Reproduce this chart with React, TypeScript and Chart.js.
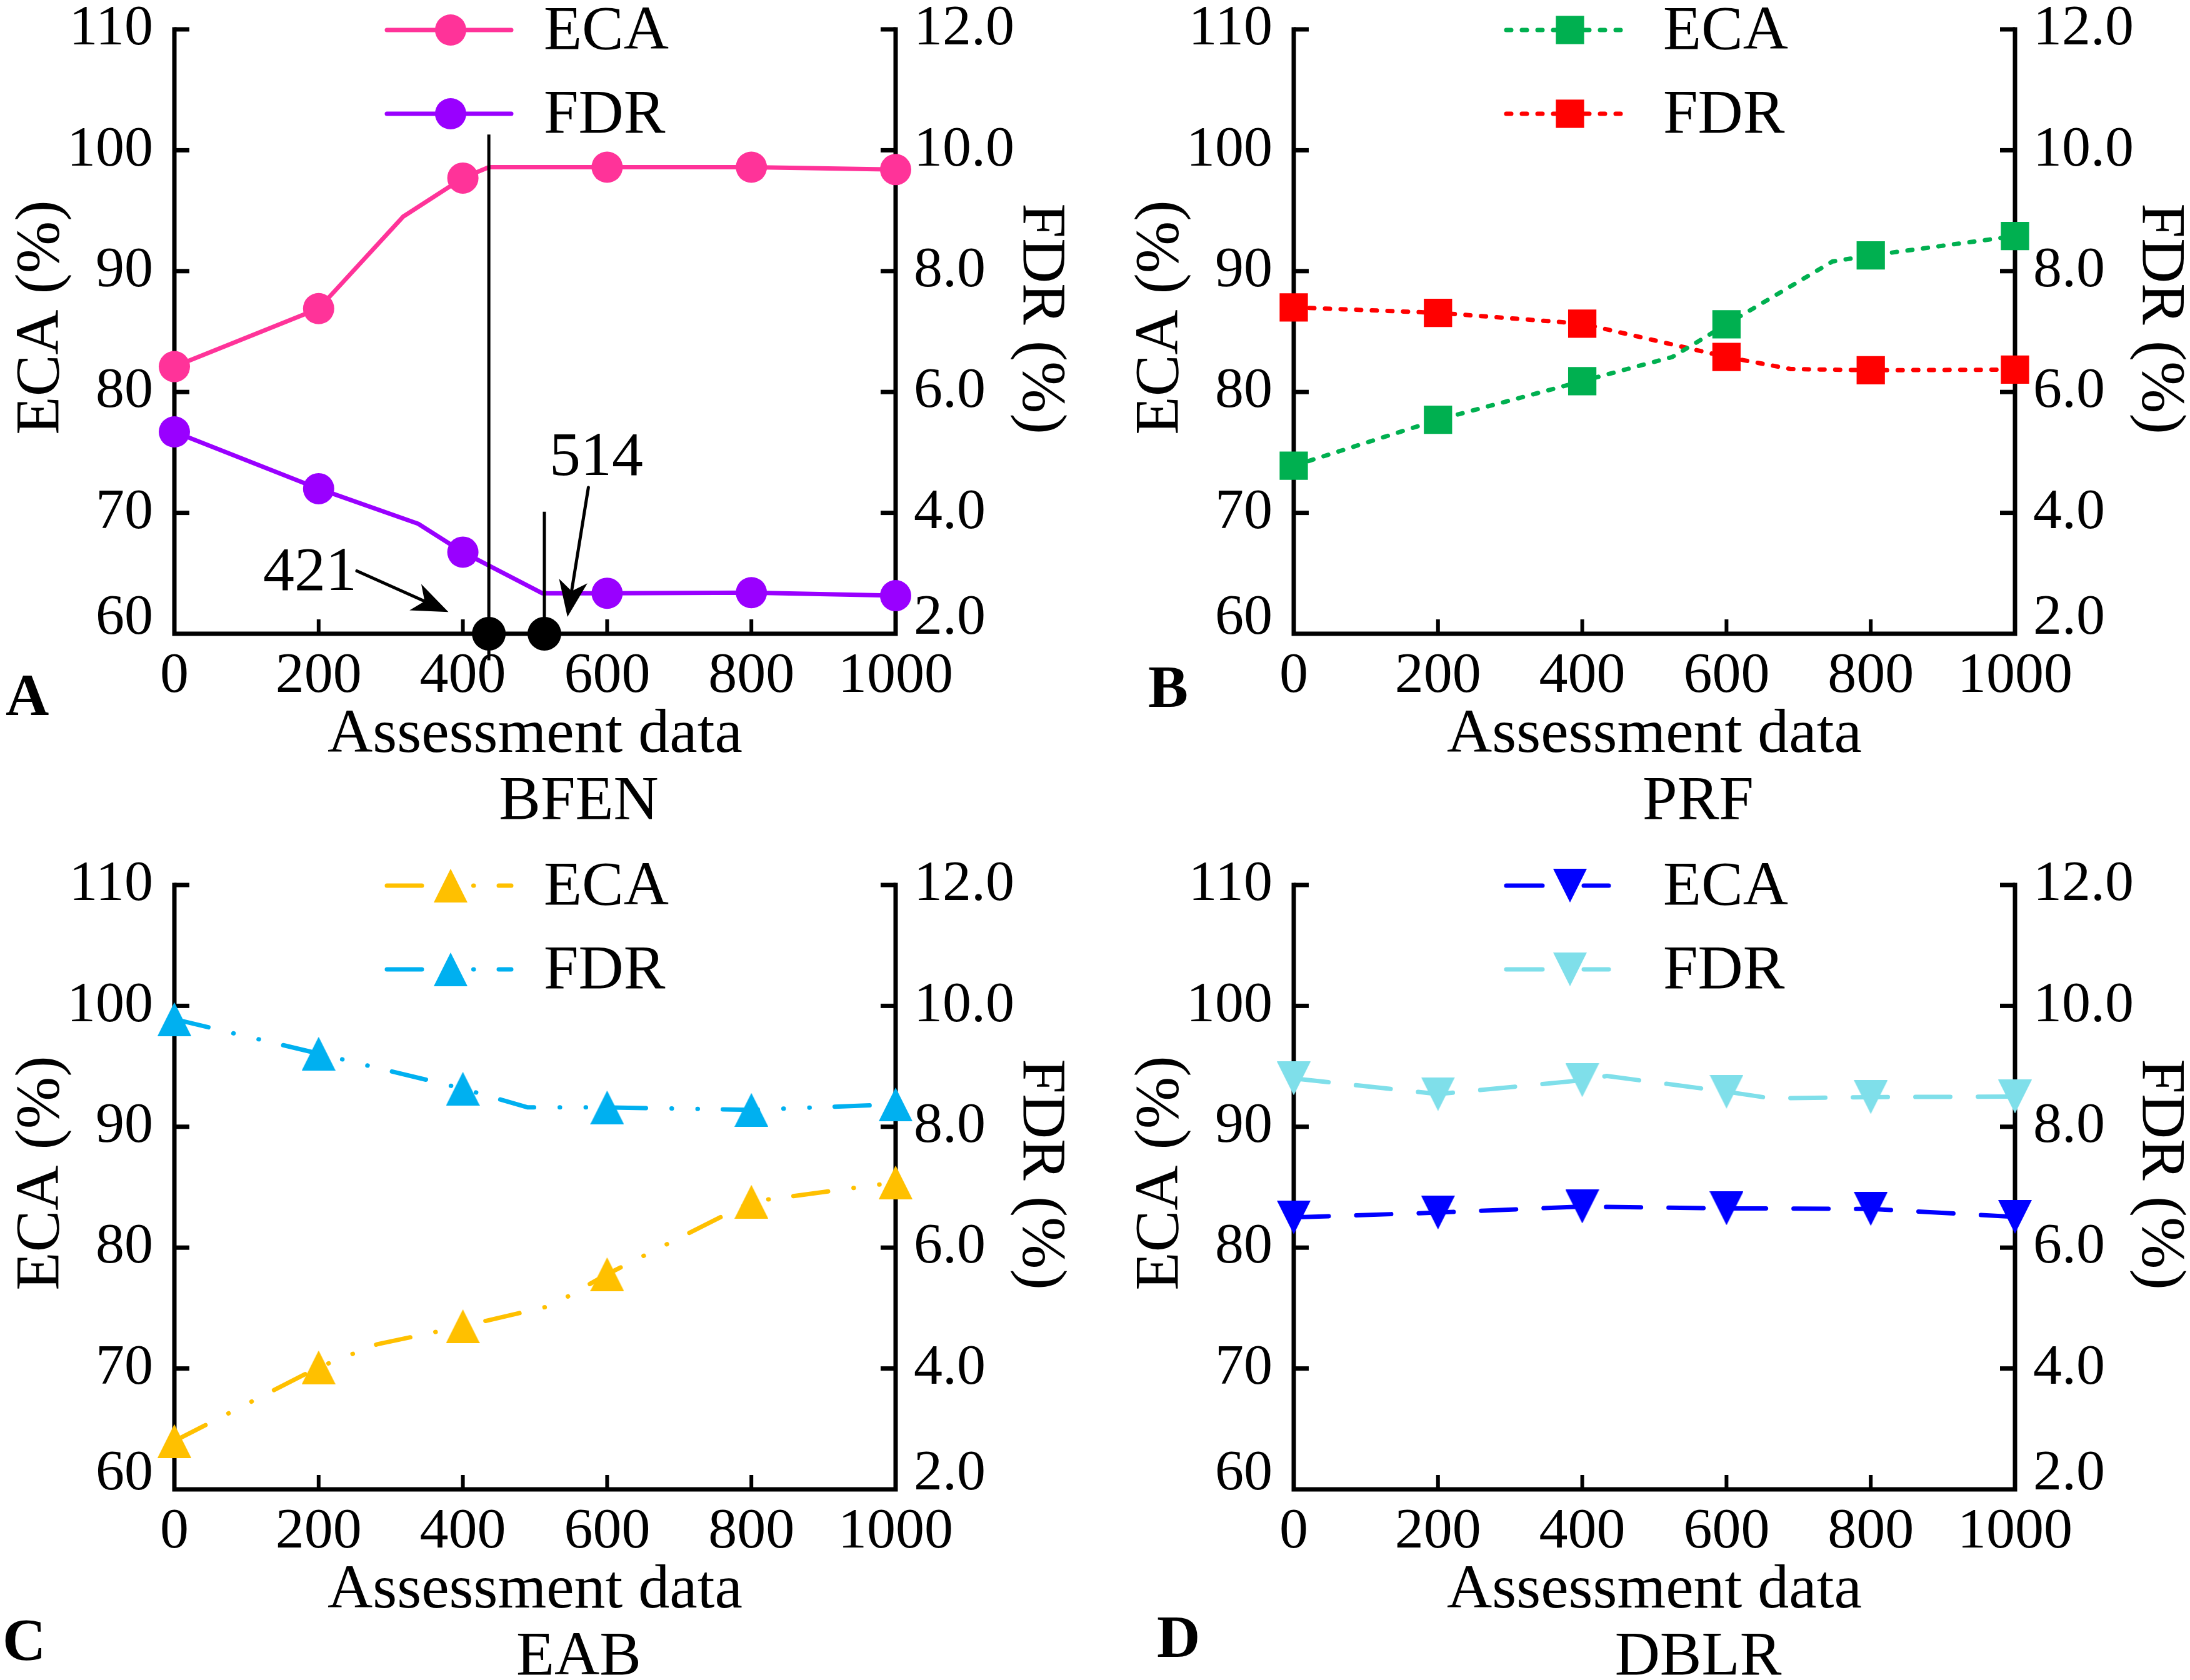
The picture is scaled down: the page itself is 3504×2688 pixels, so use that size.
import React, { useEffect, useRef } from "react";
import { Chart, registerables } from "chart.js";
Chart.register(...registerables);

const FONT = '"Liberation Serif", "Times New Roman", Times, serif';

// ---------------- data ----------------
const xTickValues = [0, 200, 400, 600, 800, 1000];
const ecaRange = [60, 110, 10]; // min, max, step
const fdrRange = [2, 12, 2];
const seriesLabels = ["ECA", "FDR"];
const xAxisTitle = "Assessment data";
const leftAxisTitle = "ECA (%)";
const rightAxisTitle = "FDR (%)";
const panelLetters = ["A", "B", "C", "D"];
const methodNames = ["BFEN", "PRF", "EAB", "DBLR"];

// A: BFEN
const bfenEcaX = [0, 200, 317, 400, 436, 600, 800, 1000];
const bfenEca = [82.1, 86.9, 94.5, 97.7, 98.6, 98.6, 98.6, 98.4];
const bfenFdrX = [0, 200, 338, 400, 510, 600, 800, 1000];
const bfenFdr = [5.34, 4.4, 3.82, 3.35, 2.67, 2.67, 2.68, 2.63];
// BFEN threshold marks (drawn at their read positions, labelled as in the figure)
const bfenMarkX = [436, 513];
const bfenMarkLabels = ["421", "514"];
const bfenMarkTop = [101.3, 70.1];
const bfenMarkBottom = [57.8, 60];
const bfenDotY = [60, 60];
const bfenArrowFromX = [253, 574];
const bfenArrowFromY = [65.2, 72.1];
const bfenArrowToX = [380, 545];
const bfenArrowToY = [61.8, 61.4];
const bfenLabelX = [188, 585];
const bfenLabelY = [65.0, 74.5];

// B: PRF
const prfEcaX = [0, 200, 400, 525, 600, 747, 800, 1000];
const prfEca = [73.9, 77.7, 80.9, 82.9, 85.6, 90.8, 91.3, 92.9];
const prfFdrX = [0, 200, 400, 600, 689, 800, 1000];
const prfFdr = [7.4, 7.31, 7.13, 6.58, 6.38, 6.36, 6.37];

// C: EAB
const eabEcaX = [0, 200, 281, 400, 523, 600, 800, 1000];
const eabEca = [64.0, 70.1, 72.0, 73.5, 75.2, 77.8, 83.8, 85.4];
const eabFdrX = [0, 200, 400, 490, 600, 800, 1000];
const eabFdr = [9.78, 9.21, 8.63, 8.32, 8.32, 8.28, 8.37];

// D: DBLR
const dblrEcaX = [0, 200, 400, 600, 800, 1000];
const dblrEca = [82.5, 82.9, 83.4, 83.25, 83.2, 82.55];
const dblrFdrX = [0, 200, 400, 434, 600, 662, 800, 1000];
const dblrFdr = [8.8, 8.54, 8.77, 8.84, 8.58, 8.47, 8.49, 8.5];

// ---------------- layout / style ----------------
const CANVAS_W = 1713;
const AREA_LEFT = 279;
const AREA_RIGHT = 1433;
const AREA_TOP = 47;
const AREA_BOTTOM = 1014;

type MarkerKind = "circle" | "rect" | "triUp" | "triDown";
type PanelSpec = {
  idx: number;
  left: number;
  top: number;
  height: number;
  letterX: number;
  letterY: number;
  ecaX: number[];
  eca: number[];
  fdrX: number[];
  fdr: number[];
  colors: string[];
  dash: number[];
  legendDash: number[];
  legendEnd: number;
  marker: MarkerKind;
  annotate: boolean;
};

const DASHDOT = [56, 41, 0.5, 41, 0.5, 40];

const panels: PanelSpec[] = [
  {
    idx: 0, left: 0, top: 0, height: 1369, letterX: 9, letterY: 1144,
    ecaX: bfenEcaX, eca: bfenEca, fdrX: bfenFdrX, fdr: bfenFdr,
    colors: ["#FF3399", "#9900FF"], dash: [], legendDash: [], legendEnd: 539,
    marker: "circle", annotate: true,
  },
  {
    idx: 1, left: 1791, top: 0, height: 1369, letterX: 46, letterY: 1131,
    ecaX: prfEcaX, eca: prfEca, fdrX: prfFdrX, fdr: prfFdr,
    colors: ["#00B050", "#FF0000"], dash: [8, 17], legendDash: [8, 17], legendEnd: 529,
    marker: "rect", annotate: false,
  },
  {
    idx: 2, left: 0, top: 1369, height: 1319, letterX: 4, letterY: 1287,
    ecaX: eabEcaX, eca: eabEca, fdrX: eabFdrX, fdr: eabFdr,
    colors: ["#FFC000", "#00B0F0"], dash: DASHDOT, legendDash: DASHDOT, legendEnd: 539,
    marker: "triUp", annotate: false,
  },
  {
    idx: 3, left: 1791, top: 1369, height: 1319, letterX: 60, letterY: 1282,
    ecaX: dblrEcaX, eca: dblrEca, fdrX: dblrFdrX, fdr: dblrFdr,
    colors: ["#0000FF", "#7FDFEA"], dash: [56, 44], legendDash: [58, 66], legendEnd: 504,
    marker: "triDown", annotate: false,
  },
];

function makeTriangle(color: string, down: boolean) {
  const w = 54;
  const h = 54;
  const c = document.createElement("canvas");
  c.width = w;
  c.height = h;
  const g = c.getContext("2d")!;
  g.fillStyle = color;
  g.beginPath();
  if (down) {
    g.moveTo(0, 0);
    g.lineTo(w, 0);
    g.lineTo(w / 2, h);
  } else {
    g.moveTo(w / 2, 0);
    g.lineTo(w, h);
    g.lineTo(0, h);
  }
  g.closePath();
  g.fill();
  return c;
}

function pointStyleFor(kind: MarkerKind, color: string): any {
  if (kind === "circle") return "circle";
  if (kind === "rect") return "rect";
  return makeTriangle(color, kind === "triDown");
}

function radiusFor(kind: MarkerKind) {
  if (kind === "circle") return 25;
  if (kind === "rect") return 32;
  return 27;
}

function drawMarker(ctx: CanvasRenderingContext2D, kind: MarkerKind, style: any, x: number, y: number, color: string) {
  ctx.fillStyle = color;
  if (kind === "circle") {
    ctx.beginPath();
    ctx.arc(x, y, 25, 0, Math.PI * 2);
    ctx.fill();
  } else if (kind === "rect") {
    const s = 32 * Math.SQRT1_2;
    ctx.fillRect(x - s, y - s, 2 * s, 2 * s);
  } else {
    ctx.drawImage(style, x - style.width / 2, y - style.height / 2);
  }
}

function drawArrow(ctx: CanvasRenderingContext2D, x0: number, y0: number, x1: number, y1: number) {
  const L = 58;
  const W = 23;
  const dx = x1 - x0;
  const dy = y1 - y0;
  const len = Math.hypot(dx, dy);
  const ux = dx / len;
  const uy = dy / len;
  const nx = -uy;
  const ny = ux;
  const bx = x1 - ux * L;
  const by = y1 - uy * L;
  const notchX = x1 - ux * L * 0.72;
  const notchY = y1 - uy * L * 0.72;
  ctx.strokeStyle = "#000";
  ctx.fillStyle = "#000";
  ctx.lineWidth = 5;
  ctx.lineCap = "round";
  ctx.setLineDash([]);
  ctx.beginPath();
  ctx.moveTo(x0, y0);
  ctx.lineTo(notchX, notchY);
  ctx.stroke();
  ctx.beginPath();
  ctx.moveTo(x1, y1);
  ctx.lineTo(bx + nx * W, by + ny * W);
  ctx.lineTo(notchX, notchY);
  ctx.lineTo(bx - nx * W, by - ny * W);
  ctx.closePath();
  ctx.fill();
}

function Panel({ spec }: { spec: PanelSpec }) {
  const ref = useRef<HTMLCanvasElement | null>(null);

  useEffect(() => {
    const canvas = ref.current;
    if (!canvas) return;
    const H = spec.height;
    const styles = spec.colors.map((c) => pointStyleFor(spec.marker, c));
    const R = radiusFor(spec.marker);

    const seriesDataset = (label: string, xs: number[], ys: number[], axis: string, color: string, style: any) => ({
      type: "line",
      label,
      data: xs.map((x, i) => ({ x, y: ys[i] })),
      yAxisID: axis,
      borderColor: color,
      backgroundColor: color,
      borderWidth: 7,
      borderDash: spec.dash,
      borderCapStyle: "round",
      borderJoinStyle: "round",
      tension: 0,
      fill: false,
      pointStyle: style,
      pointRadius: (c: any) => (c.raw && xTickValues.includes(c.raw.x) ? R : 0),
      pointHoverRadius: 0,
      pointBackgroundColor: color,
      pointBorderColor: color,
      pointBorderWidth: 0,
      clip: false,
    });

    const datasets: any[] = [];
    if (spec.annotate) {
      bfenMarkX.forEach((mx, i) => {
        datasets.push({
          type: "line",
          label: "mark" + i,
          data: [
            { x: mx, y: bfenMarkBottom[i] },
            { x: mx, y: bfenMarkTop[i] },
          ],
          yAxisID: "y",
          borderColor: "#000",
          borderWidth: 5,
          pointRadius: 0,
          pointHoverRadius: 0,
          clip: false,
        });
      });
      datasets.push({
        type: "line",
        label: "dots",
        showLine: false,
        data: bfenMarkX.map((mx, i) => ({ x: mx, y: bfenDotY[i] })),
        yAxisID: "y",
        pointStyle: "circle",
        pointRadius: 27,
        pointHoverRadius: 0,
        pointBackgroundColor: "#000",
        pointBorderWidth: 0,
        clip: false,
      });
    }
    datasets.push(seriesDataset(seriesLabels[0], spec.ecaX, spec.eca, "y", spec.colors[0], styles[0]));
    datasets.push(seriesDataset(seriesLabels[1], spec.fdrX, spec.fdr, "y1", spec.colors[1], styles[1]));

    const decor = {
      id: "decor" + spec.idx,
      beforeDatasetsDraw(chart: any) {
        const { ctx, chartArea } = chart;
        const { left, right, top, bottom } = chartArea;
        const sx = chart.scales.x;
        const sy = chart.scales.y;
        const sy1 = chart.scales.y1;
        ctx.save();
        // bottom tick labels lifted clear of the x labels, as in the figure
        ctx.fillStyle = "#000";
        ctx.font = `92px ${FONT}`;
        ctx.textBaseline = "middle";
        ctx.textAlign = "right";
        ctx.fillText(String(sy.min), left - 34, sy.getPixelForValue(sy.min) - 24);
        ctx.textAlign = "left";
        ctx.fillText(Number(sy1.min).toFixed(1), right + 29, sy1.getPixelForValue(sy1.min) - 24);

        ctx.strokeStyle = "#000";
        ctx.lineWidth = 7;
        ctx.setLineDash([]);
        ctx.lineCap = "square";
        ctx.lineJoin = "miter";
        ctx.beginPath();
        ctx.moveTo(left, top);
        ctx.lineTo(left, bottom);
        ctx.lineTo(right, bottom);
        ctx.lineTo(right, top);
        ctx.stroke();
        ctx.lineCap = "butt";
        sy.ticks.forEach((t: any) => {
          if (t.value <= sy.min) return;
          const py = sy.getPixelForValue(t.value);
          ctx.beginPath();
          ctx.moveTo(left, py);
          ctx.lineTo(left + 24, py);
          ctx.stroke();
        });
        sy1.ticks.forEach((t: any) => {
          if (t.value <= sy1.min) return;
          const py = sy1.getPixelForValue(t.value);
          ctx.beginPath();
          ctx.moveTo(right, py);
          ctx.lineTo(right - 24, py);
          ctx.stroke();
        });
        ctx.lineWidth = 6;
        sx.ticks.forEach((t: any) => {
          if (t.value <= sx.min || t.value >= sx.max) return;
          const px = sx.getPixelForValue(t.value);
          ctx.beginPath();
          ctx.moveTo(px, bottom);
          ctx.lineTo(px, bottom - 23);
          ctx.stroke();
        });
        ctx.restore();
      },
      afterDatasetsDraw(chart: any) {
        const { ctx, chartArea } = chart;
        const { left, right, top } = chartArea;
        const sx = chart.scales.x;
        const sy = chart.scales.y;
        ctx.save();
        ctx.fillStyle = "#000";
        ctx.font = `100px ${FONT}`;
        ctx.textAlign = "center";
        ctx.textBaseline = "alphabetic";
        const cx = (left + right) / 2;
        ctx.fillText(xAxisTitle, cx, 1203);
        ctx.fillText(methodNames[spec.idx], cx + 70, 1310);

        ctx.save();
        ctx.translate(left - 212, 508);
        ctx.rotate(-Math.PI / 2);
        ctx.textBaseline = "middle";
        ctx.fillText(leftAxisTitle, 0, 0);
        ctx.restore();

        ctx.save();
        ctx.translate(right + 231, 510);
        ctx.rotate(Math.PI / 2);
        ctx.textBaseline = "middle";
        ctx.fillText(rightAxisTitle, 0, 0);
        ctx.restore();

        ctx.font = `bold 96px ${FONT}`;
        ctx.textAlign = "left";
        ctx.fillText(panelLetters[spec.idx], spec.letterX, spec.letterY);

        // legend
        const rows = [top + 1, top + 135];
        seriesLabels.forEach((lab, i) => {
          const ry = rows[i];
          const color = spec.colors[i];
          ctx.strokeStyle = color;
          ctx.lineWidth = 7;
          ctx.lineCap = "round";
          ctx.setLineDash(spec.legendDash);
          ctx.beginPath();
          ctx.moveTo(left + 340, ry);
          ctx.lineTo(left + spec.legendEnd, ry);
          ctx.stroke();
          ctx.setLineDash([]);
          drawMarker(ctx, spec.marker, styles[i], left + 442, ry, color);
          ctx.fillStyle = "#000";
          ctx.font = `100px ${FONT}`;
          ctx.textAlign = "left";
          ctx.textBaseline = "alphabetic";
          ctx.fillText(lab, left + 591, ry + 30);
        });

        if (spec.annotate) {
          bfenMarkLabels.forEach((lab, i) => {
            drawArrow(
              ctx,
              sx.getPixelForValue(bfenArrowFromX[i]),
              sy.getPixelForValue(bfenArrowFromY[i]),
              sx.getPixelForValue(bfenArrowToX[i]),
              sy.getPixelForValue(bfenArrowToY[i])
            );
            ctx.fillStyle = "#000";
            ctx.font = `100px ${FONT}`;
            ctx.textAlign = "center";
            ctx.textBaseline = "middle";
            ctx.fillText(lab, sx.getPixelForValue(bfenLabelX[i]), sy.getPixelForValue(bfenLabelY[i]));
          });
        }
        ctx.restore();
      },
    };

    const tickFont = { family: FONT, size: 92 };
    const config: any = {
      type: "line",
      data: { datasets },
      options: {
        responsive: false,
        maintainAspectRatio: false,
        animation: false,
        devicePixelRatio: 1,
        events: [],
        layout: { padding: { top: AREA_TOP, left: 0, right: 0, bottom: 0 } },
        plugins: { legend: { display: false }, tooltip: { enabled: false }, title: { display: false } },
        scales: {
          x: {
            type: "linear",
            position: "bottom",
            min: xTickValues[0],
            max: xTickValues[xTickValues.length - 1],
            ticks: {
              stepSize: xTickValues[1] - xTickValues[0],
              font: tickFont,
              color: "#000",
              padding: 14,
              maxRotation: 0,
              autoSkip: false,
              callback: (v: any) => String(v),
            },
            grid: { display: false, drawTicks: false },
            border: { display: false },
            afterFit: (s: any) => {
              s.height = H - AREA_BOTTOM;
              s.paddingLeft = 0;
              s.paddingRight = 0;
            },
          },
          y: {
            type: "linear",
            position: "left",
            min: ecaRange[0],
            max: ecaRange[1],
            ticks: {
              stepSize: ecaRange[2],
              font: tickFont,
              color: "#000",
              padding: 34,
              callback: (v: any) => (Number(v) === ecaRange[0] ? "" : String(v)),
            },
            grid: { display: false, drawTicks: false },
            border: { display: false },
            afterFit: (s: any) => {
              s.width = AREA_LEFT;
              s.paddingTop = 0;
              s.paddingBottom = 0;
            },
          },
          y1: {
            type: "linear",
            position: "right",
            min: fdrRange[0],
            max: fdrRange[1],
            ticks: {
              stepSize: fdrRange[2],
              font: tickFont,
              color: "#000",
              padding: 29,
              callback: (v: any) => (Number(v) === fdrRange[0] ? "" : Number(v).toFixed(1)),
            },
            grid: { display: false, drawTicks: false },
            border: { display: false },
            afterFit: (s: any) => {
              s.width = CANVAS_W - AREA_RIGHT;
              s.paddingTop = 0;
              s.paddingBottom = 0;
            },
          },
        },
      },
      plugins: [decor],
    };

    const chart = new Chart(canvas, config);
    return () => chart.destroy();
  }, [spec]);

  return (
    <canvas
      ref={ref}
      width={CANVAS_W}
      height={spec.height}
      style={{ position: "absolute", left: spec.left, top: spec.top, width: CANVAS_W, height: spec.height }}
    />
  );
}

export default function App() {
  useEffect(() => {
    document.body.style.margin = "0";
    document.body.style.background = "#fff";
  }, []);
  return (
    <div style={{ position: "absolute", left: 0, top: 0, width: 3504, height: 2688, overflow: "hidden", background: "#fff" }}>
      {panels.map((p) => (
        <Panel key={p.idx} spec={p} />
      ))}
    </div>
  );
}
